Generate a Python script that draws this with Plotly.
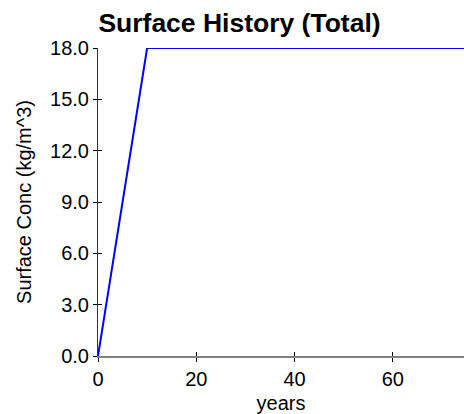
import plotly.graph_objects as go

# données
years = [0, 10, 100]
surface_conc = [0.0, 18.0, 18.0]
y_ticks = [0, 3, 6, 9, 12, 15, 18]
x_ticks = [0, 20, 40, 60]

FONT = "Liberation Sans, Arial, sans-serif"

fig = go.Figure()
fig.add_trace(go.Scatter(x=years, y=surface_conc, mode="lines",
                         line=dict(color="#0000ff", width=2),
                         showlegend=False))

axis_common = dict(showgrid=False, zeroline=False, tickfont=dict(size=20, color="#000"),
                   ticklen=4, tickwidth=1, tickcolor="#000")

fig.update_layout(
    width=464, height=414,
    margin=dict(l=98, r=0, t=48, b=58),
    paper_bgcolor="white", plot_bgcolor="white",
    font=dict(family=FONT, color="#000"),
    title=dict(text="<b>Surface History (Total)</b>", x=239.5 / 464, xanchor="center",
               y=1 - 23 / 414, yanchor="middle", font=dict(size=26.5)),
    xaxis=dict(range=[0, 74.5], tickvals=x_ticks, ticks="outside",
               showline=True, linecolor="#808080", linewidth=2,
               title=dict(text="years", font=dict(size=20), standoff=7), **axis_common),
    yaxis=dict(range=[0, 18], tickvals=y_ticks, tickformat=".1f", ticks="outside",
               showline=True, linecolor="#333", linewidth=1,
               title=dict(text="Surface Conc (kg/m^3)", font=dict(size=20), standoff=13),
               **axis_common),
    # axes superposés pour les graduations intérieures (graduations croisées)
    xaxis2=dict(overlaying="x", matches="x", tickvals=x_ticks, ticks="inside",
                showticklabels=False, showgrid=False, zeroline=False,
                ticklen=4, tickcolor="#000", side="bottom"),
    yaxis2=dict(overlaying="y", matches="y", tickvals=y_ticks, ticks="inside",
                showticklabels=False, showgrid=False, zeroline=False,
                ticklen=4, tickcolor="#000", side="left"),
)
fig.add_trace(go.Scatter(x=[None], y=[None], xaxis="x2", yaxis="y2",
                         showlegend=False, hoverinfo="skip"))

# pas de marge autour de la page : le graphique occupe toute la fenêtre
fig.write_html("out.html", config={"displayModeBar": False}, post_script=(
    "document.body.style.margin='0';"
    "document.body.style.overflow='hidden';"))
